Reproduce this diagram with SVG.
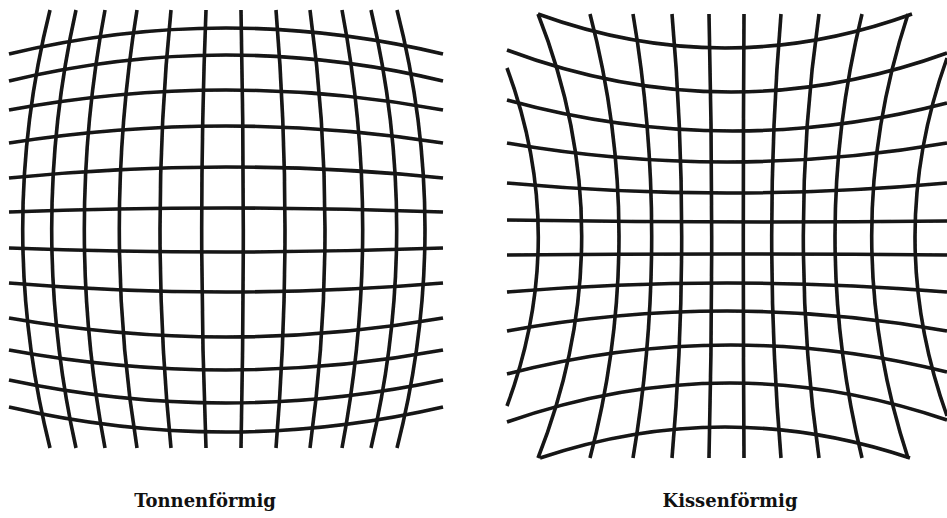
<svg xmlns="http://www.w3.org/2000/svg" width="947" height="518" viewBox="0 0 947 518">
<style>
.g{fill:none;stroke:#141414;stroke-width:3.6;stroke-linecap:butt}
.t{font-family:"DejaVu Serif","Liberation Serif",serif;font-weight:bold;font-size:18px;fill:#111;text-anchor:middle}
</style>
<defs>
<filter id="soft" x="-5%" y="-5%" width="110%" height="110%"><feGaussianBlur stdDeviation="0.55"/></filter>
</defs>
<rect width="947" height="518" fill="#fff"/>
<g id="tonnen" class="g" filter="url(#soft)">
<path d="M50 10Q-4.6 229 50 448"/>
<path d="M76 10Q27.4 229 76 448"/>
<path d="M105 10Q63.6 229 105 448"/>
<path d="M137 10Q101.6 229 137 448"/>
<path d="M171 10Q149 229 171 448"/>
<path d="M206 10Q197.4 229 206 448"/>
<path d="M241 10Q245.6 229 241 448"/>
<path d="M276 10Q294 229 276 448"/>
<path d="M310 10Q340 229 310 448"/>
<path d="M342 10Q383.4 229 342 448"/>
<path d="M371 10Q422.4 229 371 448"/>
<path d="M397 10Q453 229 397 448"/>
<path d="M9 54Q226 2 443 54"/>
<path d="M9 81Q226 29 443 81"/>
<path d="M9 110Q226 70 443 110"/>
<path d="M9 143Q226 109 443 143"/>
<path d="M9 178Q226 156 443 178"/>
<path d="M9 212Q226 204 443 212"/>
<path d="M9 248Q226 256 443 248"/>
<path d="M9 283Q226 301 443 283"/>
<path d="M9 318Q226 356 443 318"/>
<path d="M9 350Q226 390 443 350"/>
<path d="M9 380Q226 426 443 380"/>
<path d="M9 407Q226 457 443 407"/>
</g>
<g id="kissen" class="g" filter="url(#soft)">
<path d="M507 68Q569.6 237 507 406"/>
<path d="M538 14Q625.4 236 538 458"/>
<path d="M590 14Q648 236 590 458"/>
<path d="M633 14Q670.4 236 633 458"/>
<path d="M672 14Q691.4 236 672 458"/>
<path d="M709 14Q714.4 236 709 458"/>
<path d="M744 14Q742.6 236 744 458"/>
<path d="M781 14Q762.4 236 781 458"/>
<path d="M819 14Q787.6 236 819 458"/>
<path d="M862 14Q808 236 862 458"/>
<path d="M908 14Q835.4 236 908 458"/>
<path d="M947 58Q883 237 947 416"/>
<path d="M538 14Q725 82 912 14"/>
<path d="M507 50Q727 132.5 947 53"/>
<path d="M507 100Q727 160.5 947 103"/>
<path d="M507 143Q727 181 947 143"/>
<path d="M507 183Q727 203 947 183"/>
<path d="M507 220Q727 223.5 947 221"/>
<path d="M507 255Q727 253 947 255"/>
<path d="M507 292Q727 274 947 292"/>
<path d="M507 331Q727 291 947 331"/>
<path d="M507 374Q727 317 947 372"/>
<path d="M507 422Q727 345 947 420"/>
<path d="M540 458Q725 396 910 458"/>
</g>
<g id="labels">
<text class="t" x="205" y="507">Tonnenförmig</text>
<text class="t" x="730" y="507">Kissenförmig</text>
</g>
</svg>
